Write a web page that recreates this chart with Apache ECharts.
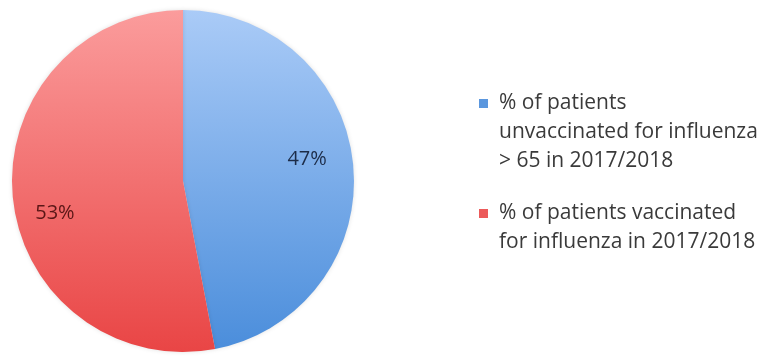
<!DOCTYPE html>
<html>
<head>
<meta charset="utf-8">
<script src="https://cdn.jsdelivr.net/npm/echarts@6/dist/echarts.min.js"></script>
<style>
  html, body { margin: 0; padding: 0; background: #ffffff; }
  #chart { width: 770px; height: 356px; }
</style>
</head>
<body>
<div id="chart"></div>
<script>
// Influenza vaccination share, 2017/2018
const categories = [
  '% of patients\nunvaccinated for influenza\n> 65 in 2017/2018',
  '% of patients vaccinated\nfor influenza in 2017/2018'
];
const values = [47, 53];

// Per-slice appearance
const sliceLook = [
  { top: '#aacbf7', bottom: '#4a8ddb', label: '#1c2c48', offset: [36, -13], icon: '#5b97de', legendTop: 26 },
  { top: '#fb9c9c', bottom: '#e94545', label: '#5a1616', offset: [-40, 24], icon: '#ec5a5a', legendTop: 165 }
];

const fontFamily = '"Open Sans", "Liberation Sans", sans-serif';

const pieData = categories.map((name, i) => ({
  name: name,
  value: values[i],
  itemStyle: {
    color: {
      type: 'linear', global: true, x: 0, y: 10, x2: 0, y2: 352,
      colorStops: [
        { offset: 0, color: sliceLook[i].top },
        { offset: 1, color: sliceLook[i].bottom }
      ]
    }
  },
  label: { color: sliceLook[i].label, offset: sliceLook[i].offset }
}));

// The legend icon sits at the middle of its text block; blank lines above
// the name keep the square level with the first line of each entry.
function legendText(name) {
  const lines = name.split('\n').length;
  return '\n'.repeat(lines - 1) + name;
}

const legends = categories.map((name, i) => ({
  orient: 'vertical',
  left: 474,
  top: sliceLook[i].legendTop,
  icon: 'rect',
  itemWidth: 9,
  itemHeight: 9,
  itemGap: 0,
  data: [{ name: name, itemStyle: { color: sliceLook[i].icon } }],
  formatter: legendText,
  textStyle: {
    fontFamily: fontFamily,
    fontSize: 21,
    color: '#3a3a3a',
    lineHeight: 29,
    padding: [0, 0, 0, 6]
  },
  selectedMode: false
}));

const chart = echarts.init(document.getElementById('chart'), null, { renderer: 'canvas' });
chart.setOption({
  backgroundColor: '#ffffff',
  animation: false,
  legend: legends,
  series: [{
    type: 'pie',
    center: [183, 181],
    radius: 171,
    startAngle: 90,
    clockwise: true,
    silent: true,
    data: pieData,
    itemStyle: {
      borderWidth: 0,
      shadowBlur: 4,
      shadowColor: 'rgba(0,0,0,0.12)'
    },
    label: {
      show: true,
      position: 'inside',
      formatter: '{c}%',
      fontFamily: fontFamily,
      fontSize: 20
    },
    labelLine: { show: false }
  }]
});
</script>
</body>
</html>
